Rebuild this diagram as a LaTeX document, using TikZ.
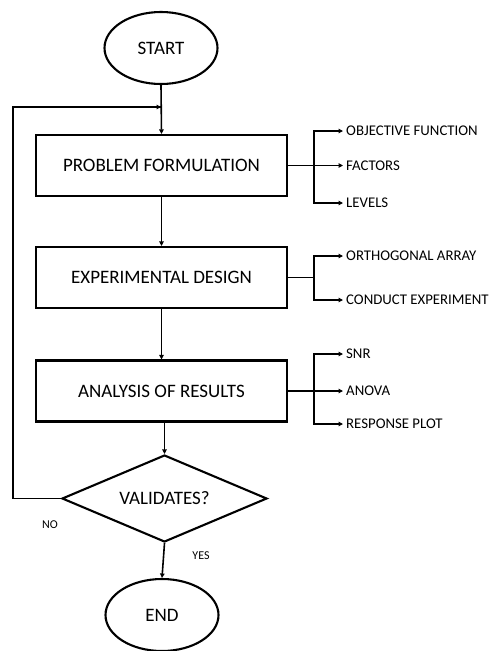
\documentclass[tikz,border=0pt]{standalone}
\usepackage{fontspec}
\setmainfont{Carlito}
\usetikzlibrary{shapes.geometric,arrows.meta}
\begin{document}
\begin{tikzpicture}[x=1pt,y=-1pt,
  box/.style={draw,line width=2.1pt,minimum width=251pt,minimum height=61pt,inner sep=0pt,font=\fontsize{19}{22}\selectfont},
  term/.style={draw,ellipse,line width=2.1pt,minimum width=113pt,minimum height=72pt,inner sep=0pt,font=\fontsize{19}{22}\selectfont},
  dec/.style={draw,diamond,line width=2.1pt,minimum width=205pt,minimum height=87pt,inner sep=0pt,aspect=2.35,font=\fontsize{19}{22}\selectfont},
  item/.style={anchor=west,inner xsep=3pt,inner ysep=0pt,font=\fontsize{14.8}{17}\selectfont},
  small/.style={inner sep=0pt,font=\fontsize{12}{14}\selectfont},
  conn/.style={line width=1.6pt,-{Triangle[length=4.5pt,width=4.5pt]}},
  plain/.style={line width=1.6pt}]
\useasboundingbox (0,0) rectangle (491,651);
\node[term] (start) at (161,48) {START};
\node[box] (pf) at (161.5,165.5) {PROBLEM FORMULATION};
\node[box] (ed) at (161.5,277.5) {EXPERIMENTAL DESIGN};
\node[box] (ar) at (161.5,391) {ANALYSIS OF RESULTS};
\node[dec] (val) at (164.5,498.5) {VALIDATES?};
\node[term] (end) at (162,615) {END};
\coordinate (join) at (161,107);
\coordinate (fbb) at (13,498.5);
\coordinate (fbt) at (13,107);
\draw[conn] (start.south) -- (pf.north);
\draw[conn] (pf.south) -- (ed.north);
\draw[conn] (ed.south) -- (ar.north);
\draw[conn] (ar.south -| val.north) -- (val.north);
\draw[conn] (val.south) -- (end.north);
\draw[plain] (val.west) -- (fbb) -- (fbt) -- (join);
\draw[conn] (fbt) -- (join);
\node[small] (no) at (50,525) {NO};
\node[small] (yes) at (201,556) {YES};
% branches
\node[item] (of) at (343,131) {OBJECTIVE FUNCTION};
\node[item] (fa) at (343,165.5) {FACTORS};
\node[item] (le) at (343,203) {LEVELS};
\node[item] (oa) at (343,256) {ORTHOGONAL ARRAY};
\node[item] (ce) at (343,300) {CONDUCT EXPERIMENT};
\node[item] (snr) at (343,354) {SNR};
\node[item] (an) at (343,391) {ANOVA};
\node[item] (rp) at (343,424) {RESPONSE PLOT};
\coordinate (b1) at (314,165.5);
\coordinate (b2) at (314,277.5);
\coordinate (b3) at (314,391);
\draw[plain] (pf.east) -- (b1);
\draw[conn] (b1) -- (fa.west);
\draw[conn] (b1) |- (of.west);
\draw[conn] (b1) |- (le.west);
\draw[plain] (ed.east) -- (b2);
\draw[conn] (b2) |- (oa.west);
\draw[conn] (b2) |- (ce.west);
\draw[plain] (ar.east) -- (b3);
\draw[conn] (b3) -- (an.west);
\draw[conn] (b3) |- (snr.west);
\draw[conn] (b3) |- (rp.west);
\end{tikzpicture}
\end{document}
